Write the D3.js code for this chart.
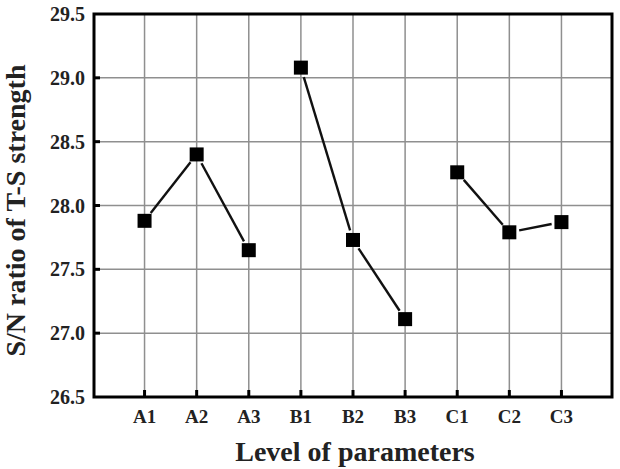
<!DOCTYPE html>
<html lang="en">

<head>
    <meta charset="UTF-8">
    <script src="https://d3js.org/d3.v7.min.js"></script>
    <style>
        body {
            margin: 0;
            background: white;
        }

        text {
            font-family: "Liberation Serif", "Times New Roman", serif;
            font-weight: bold;
            fill: #222;
        }
    </style>
</head>

<body>
    <svg id="chart" width="620" height="469"></svg>

    <script>
        // values
        const levels = ["A1", "A2", "A3", "B1", "B2", "B3", "C1", "C2", "C3"];
        const factors = ["A", "A", "A", "B", "B", "B", "C", "C", "C"];
        const snRatio = [27.88, 28.40, 27.65, 29.08, 27.73, 27.11, 28.26, 27.79, 27.87];
        const yTicks = [26.5, 27.0, 27.5, 28.0, 28.5, 29.0, 29.5];

        const svg = d3.select("#chart");
        const plot = { left: 94, right: 612, top: 14, bottom: 397 };

        const data = levels.map((l, i) => ({ level: l, factor: factors[i], value: snRatio[i], idx: i + 1 }));

        const x = d3.scaleLinear()
            .domain([0.03, levels.length + 0.97])
            .range([plot.left, plot.right]);

        const y = d3.scaleLinear()
            .domain([26.5, 29.5])
            .range([plot.bottom, plot.top]);

        // grid
        const grid = svg.append("g");
        grid.selectAll("line.hgrid")
            .data(yTicks.slice(1, -1))
            .join("line")
            .attr("class", "hgrid")
            .attr("x1", plot.left).attr("x2", plot.right)
            .attr("y1", d => y(d)).attr("y2", d => y(d))
            .attr("stroke", "#8f8f8f")
            .attr("stroke-width", 1.5);
        grid.selectAll("line.vgrid")
            .data(data)
            .join("line")
            .attr("class", "vgrid")
            .attr("x1", d => x(d.idx)).attr("x2", d => x(d.idx))
            .attr("y1", plot.top).attr("y2", plot.bottom)
            .attr("stroke", "#8f8f8f")
            .attr("stroke-width", 1.5);

        // inward ticks
        svg.append("g").selectAll("line")
            .data(yTicks.slice(1, -1))
            .join("line")
            .attr("x1", plot.left).attr("x2", plot.left + 6)
            .attr("y1", d => y(d)).attr("y2", d => y(d))
            .attr("stroke", "black")
            .attr("stroke-width", 3);
        svg.append("g").selectAll("line")
            .data(data)
            .join("line")
            .attr("x1", d => x(d.idx)).attr("x2", d => x(d.idx))
            .attr("y1", plot.bottom).attr("y2", plot.bottom - 7)
            .attr("stroke", "black")
            .attr("stroke-width", 3);

        // frame
        svg.append("rect")
            .attr("x", plot.left).attr("y", plot.top)
            .attr("width", plot.right - plot.left)
            .attr("height", plot.bottom - plot.top)
            .attr("fill", "none")
            .attr("stroke", "black")
            .attr("stroke-width", 3);

        // tick labels
        svg.append("g").selectAll("text")
            .data(yTicks)
            .join("text")
            .attr("x", plot.left - 9)
            .attr("y", d => y(d))
            .attr("dy", "0.35em")
            .attr("text-anchor", "end")
            .style("font-size", "20px")
            .text(d => d.toFixed(1));
        svg.append("g").selectAll("text")
            .data(data)
            .join("text")
            .attr("x", d => x(d.idx))
            .attr("y", 423)
            .attr("text-anchor", "middle")
            .style("font-size", "19px")
            .text(d => d.level);

        // connecting lines, one run per factor, with small gaps at the markers
        const gap = 10;
        const segs = [];
        d3.groups(data, d => d.factor).forEach(([f, pts]) => {
            for (let i = 0; i < pts.length - 1; i++) {
                const x0 = x(pts[i].idx), y0 = y(pts[i].value);
                const x1 = x(pts[i + 1].idx), y1 = y(pts[i + 1].value);
                const len = Math.hypot(x1 - x0, y1 - y0);
                const ux = (x1 - x0) / len, uy = (y1 - y0) / len;
                segs.push({ x0: x0 + ux * gap, y0: y0 + uy * gap, x1: x1 - ux * gap, y1: y1 - uy * gap });
            }
        });
        svg.append("g").selectAll("line")
            .data(segs)
            .join("line")
            .attr("x1", d => d.x0).attr("y1", d => d.y0)
            .attr("x2", d => d.x1).attr("y2", d => d.y1)
            .attr("stroke", "#111")
            .attr("stroke-width", 2.4);

        // square markers
        const size = 14;
        svg.append("g").selectAll("rect")
            .data(data)
            .join("rect")
            .attr("x", d => x(d.idx) - size / 2)
            .attr("y", d => y(d.value) - size / 2)
            .attr("width", size)
            .attr("height", size)
            .attr("fill", "black");

        // axis titles
        svg.append("text")
            .attr("x", (plot.left + plot.right) / 2 + 2)
            .attr("y", 461)
            .attr("text-anchor", "middle")
            .style("font-size", "28px")
            .text("Level of parameters");

        svg.append("text")
            .attr("transform", `translate(25, ${(plot.top + plot.bottom) / 2 + 5}) rotate(-90)`)
            .attr("text-anchor", "middle")
            .style("font-size", "28px")
            .text("S/N ratio of T-S strength");
    </script>
</body>

</html>
